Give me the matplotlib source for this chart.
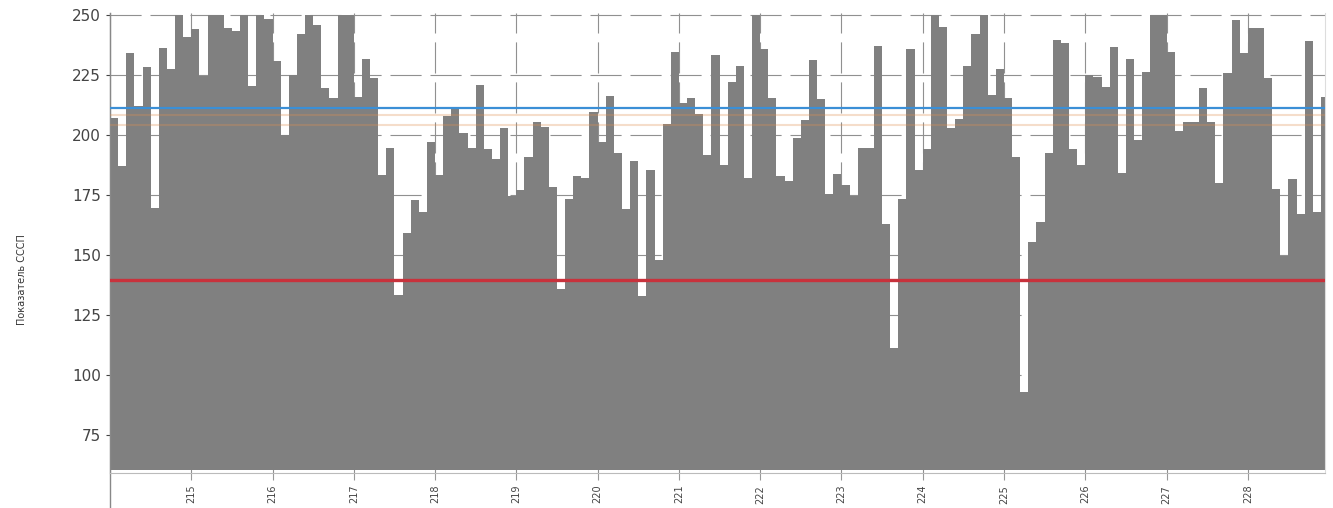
import numpy as np
import matplotlib
matplotlib.use("Agg")
import matplotlib.pyplot as plt

# sample start (x units) and step between samples
x_start = 214.0
x_step = 0.1

values = [
    207, 187, 234, 212, 228.5, 169.5, 236.4, 227.5, 250, 241,
    244, 224.5, 250, 250, 244.5, 243.5, 250, 220.5, 250, 248.5,
    230.6, 200, 225, 242, 250, 246, 219.4, 215.5, 250, 250,
    216, 231.5, 223.8, 183.2, 194.7, 133.3, 159, 173, 168, 197,
    183.3, 207.8, 211.8, 201, 194.7, 221, 194, 190, 203, 174.7,
    177, 191, 205.6, 203.5, 178.5, 136, 173.3, 183, 182, 209.5,
    197, 216.4, 192.4, 169.2, 189.3, 133, 185.4, 148, 204.4, 234.7,
    213.2, 215.3, 208.6, 191.8, 233.3, 187.5, 222.2, 228.8, 182, 250,
    236, 215.6, 183, 181, 198.6, 206.3, 231.2, 215, 175.3, 183.6,
    179.2, 174.6, 194.4, 194.4, 237.2, 162.8, 111.4, 173.3, 236, 185.4,
    194.2, 250, 245, 203, 206.5, 228.8, 242, 250, 216.7, 227.4,
    215.6, 191, 93, 155.5, 163.6, 192.6, 239.6, 238.2, 194.2, 187.5,
    225, 224.3, 220.1, 236.8, 184, 231.6, 198, 226.4, 250, 250,
    234.7, 201.7, 205.6, 205.6, 219.7, 205.4, 180, 225.7, 248, 234,
    244.7, 244.7, 223.6, 177.5, 149.7, 181.7, 167, 239, 168, 216,
]

upper_level = 211.2
lower_level = 139.5
faint_levels = [208.5, 204.0]

xticks = list(range(215, 229))
yticks = [75, 100, 125, 150, 175, 200, 225, 250]
ylabel = "Показатель СССП"

base = 60.3
x = x_start + x_step * np.arange(len(values))
heights = np.array(values) - base

fig = plt.figure(figsize=(13.33, 5.08), dpi=100)
ax = fig.add_axes([110 / 1333, 1 - 473 / 508, 1215 / 1333, 460 / 508])

ax.bar(x, heights, width=x_step, bottom=base, align="edge",
       color="#808080", linewidth=0, zorder=2)

for lv in faint_levels:
    ax.axhline(lv, color="#e09050", alpha=0.3, lw=1.5, zorder=3)
ax.axhline(upper_level, color="#3b8fd6", lw=1.6, zorder=4)
ax.axhline(lower_level, color="#c8323c", lw=2.4, zorder=4)

ax.set_xlim(214, 228.95)
ax.set_ylim(59.2, 250.8)
ax.set_xticks(xticks)
ax.set_xticklabels([str(t) for t in xticks], rotation=90, fontsize=7, color="#444444")
ax.set_yticks(yticks)
ax.tick_params(axis="y", labelsize=11, colors="#444444", length=3, width=0.8)
ax.tick_params(axis="x", length=5, width=0.8, color="#999999")

ax.set_axisbelow(True)
ax.grid(True, color="#909090", lw=0.8, ls=(0, (28, 8)), zorder=0)

ax.set_ylabel(ylabel, fontsize=7, color="#333333")
ax.yaxis.set_label_coords(-0.068, 0.42)

ax.spines["top"].set_visible(False)
ax.spines["right"].set_color("#dddddd")
ax.spines["bottom"].set_color("#bbbbbb")
ax.spines["left"].set_color("#888888")
ax.plot([0, 0], [-0.08, 1.0], transform=ax.transAxes, color="#888888",
        lw=1, clip_on=False)

fig.savefig("out.png", dpi=100)
